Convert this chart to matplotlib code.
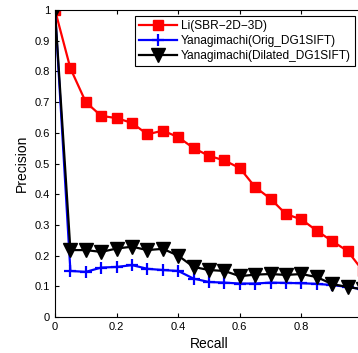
import numpy as np
import matplotlib
matplotlib.use("Agg")
import matplotlib.pyplot as plt

plt.rcParams['font.family'] = ['Liberation Sans', 'DejaVu Sans']

# recall points and precision curves
recall = [0, 0.05, 0.1, 0.15, 0.2, 0.25, 0.3, 0.35, 0.4, 0.45, 0.5,
          0.55, 0.6, 0.65, 0.7, 0.75, 0.8, 0.85, 0.9, 0.95, 1.0]
li = [1.0, 0.81, 0.70, 0.655, 0.648, 0.632, 0.595, 0.607, 0.586, 0.55, 0.525,
      0.51, 0.485, 0.423, 0.385, 0.335, 0.318, 0.281, 0.247, 0.215, 0.15]
orig = [1.0, 0.15, 0.147, 0.161, 0.163, 0.169, 0.157, 0.153, 0.15, 0.125, 0.114,
        0.112, 0.109, 0.109, 0.112, 0.111, 0.11, 0.108, 0.104, 0.098, 0.09]
dilated = [1.0, 0.218, 0.218, 0.212, 0.223, 0.229, 0.218, 0.222, 0.2, 0.163, 0.153,
           0.15, 0.133, 0.138, 0.14, 0.137, 0.14, 0.13, 0.107, 0.098, 0.09]
labels = ['Li(SBR\u22122D\u22123D)', 'Yanagimachi(Orig_DG1SIFT)',
          'Yanagimachi(Dilated_DG1SIFT)']

W, H = 358, 353
fig = plt.figure(figsize=(W / 100, H / 100), dpi=100)
ax = fig.add_axes([55 / W, (H - 317) / H, 308 / W, 307 / H])

ax.plot(recall, li, '-s', color='red', lw=1.6, ms=7, label=labels[0])
ax.plot(recall, orig, '-+', color='blue', lw=1.6, ms=9, mew=1.6, label=labels[1])
ax.plot(recall, dilated, '-v', color='black', lw=1.6, ms=9.5, label=labels[2])

ax.set_xlim(0, 1)
ax.set_ylim(0, 1)
# the 1 at the right end falls outside the picture, so it is left blank
ax.set_xticks([0, 0.2, 0.4, 0.6, 0.8, 1])
ax.set_xticklabels(['0', '0.2', '0.4', '0.6', '0.8', ''])
ax.set_yticks(np.arange(0, 1.01, 0.1))
ax.set_yticklabels(['0', '0.1', '0.2', '0.3', '0.4', '0.5', '0.6', '0.7', '0.8', '0.9', '1'])
ax.tick_params(direction='in', top=True, right=True, labelsize=8, length=3)
ax.set_xlabel('Recall', fontsize=10, labelpad=4)
ax.set_ylabel('Precision', fontsize=10, labelpad=4)

leg = ax.legend(loc='upper left', bbox_to_anchor=(80 / 308, 1 - 6 / 307), fontsize=8.6,
                handlelength=3.2, handletextpad=0.3, borderpad=0.35,
                labelspacing=0.25, borderaxespad=0, fancybox=False, framealpha=1)
leg.get_frame().set_edgecolor('black')
leg.get_frame().set_linewidth(0.8)

fig.savefig('out.png', dpi=100)
